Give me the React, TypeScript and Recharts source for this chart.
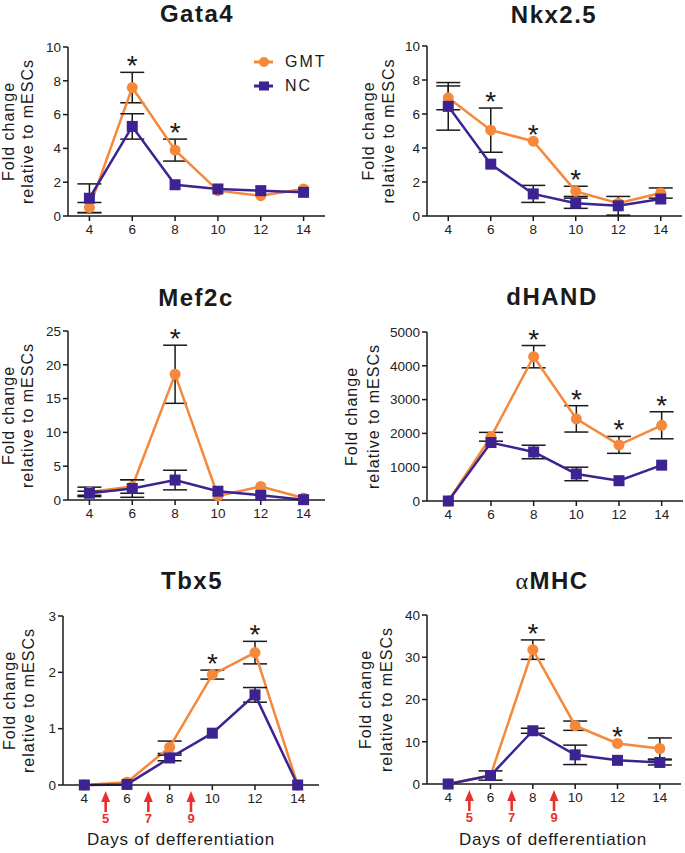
import React from 'react';
import { ComposedChart, Line, XAxis, YAxis, ErrorBar, Scatter } from 'recharts';

const FONT = '"Liberation Sans", Arial, sans-serif';
const ORANGE = '#F5883A';
const PURPLE = '#3D2391';
const RED = '#E8312C';
const INK = '#1a1a1a';

// days of differentiation (x axis)
const days = [4, 6, 8, 10, 12, 14];
const inductionDays = [5, 7, 9];
const seriesNames = ['GMT', 'NC'];

const gata4Gmt = [0.5, 7.6, 3.9, 1.5, 1.2, 1.6];
const gata4GmtErr = [0.3, 0.9, 0.65, 0, 0, 0];
const gata4Nc = [1.05, 5.3, 1.85, 1.6, 1.5, 1.4];
const gata4NcErr = [0.85, 0.75, 0, 0, 0, 0];
const gata4Stars = [6, 8];
const gata4Ticks = [0, 2, 4, 6, 8, 10];

const nkxGmt = [6.95, 5.05, 4.4, 1.45, 0.75, 1.35];
const nkxGmtErr = [0.7, 1.3, 0, 0.3, 0, 0.3];
const nkxNc = [6.45, 3.05, 1.3, 0.75, 0.6, 1.0];
const nkxNcErr = [1.4, 0, 0.5, 0.3, 0.55, 0];
const nkxStars = [6, 8, 10];
const nkxTicks = [0, 2, 4, 6, 8, 10];

const mef2cGmt = [1.2, 2.0, 18.6, 0.6, 2.0, 0.3];
const mef2cGmtErr = [0.7, 1.0, 4.3, 0, 0, 0];
const mef2cNc = [1.0, 1.7, 2.95, 1.3, 0.7, 0.05];
const mef2cNcErr = [0.3, 1.3, 1.45, 0, 0, 0];
const mef2cStars = [8];
const mef2cTicks = [0, 5, 10, 15, 20, 25];

const dhandGmt = [0, 1900, 4270, 2430, 1660, 2240];
const dhandGmtErr = [0, 130, 330, 390, 250, 400];
const dhandNc = [0, 1730, 1450, 800, 600, 1060];
const dhandNcErr = [0, 0, 200, 200, 0, 0];
const dhandStars = [8, 10, 12, 14];
const dhandTicks = [0, 1000, 2000, 3000, 4000, 5000];

const tbx5Gmt = [0, 0.05, 0.67, 1.96, 2.35, 0];
const tbx5GmtErr = [0, 0, 0.11, 0.08, 0.2, 0];
const tbx5Nc = [0, 0.01, 0.48, 0.92, 1.6, 0];
const tbx5NcErr = [0, 0, 0.05, 0, 0.13, 0];
const tbx5Stars = [10, 12];
const tbx5Ticks = [0, 1, 2, 3];

const mhcGmt = [0, 2, 31.8, 13.8, 9.6, 8.4];
const mhcGmtErr = [0, 0, 2.3, 1.1, 0, 2.5];
const mhcNc = [0, 2, 12.6, 6.9, 5.6, 5.1];
const mhcNcErr = [0, 1.1, 0.6, 2.3, 0, 0.6];
const mhcStars = [8, 12];
const mhcTicks = [0, 10, 20, 30, 40];

const squareDot = (p: any) => (
  <rect key={`sq-${p.index}`} x={p.cx - 5.5} y={p.cy - 5.5} width={11} height={11} fill={PURPLE} />
);

const starShape = (p: any) => (
  <text x={p.cx} y={p.cy + 3} textAnchor="middle" fontSize={28} fontFamily={FONT} fill={INK}>*</text>
);

const arrowShape = (p: any) => (
  <g>
    <line x1={p.cx} y1={p.cy + 15} x2={p.cx} y2={p.cy + 27} stroke={RED} strokeWidth={2.6} />
    <polygon points={`${p.cx},${p.cy + 6} ${p.cx - 4.5},${p.cy + 17} ${p.cx + 4.5},${p.cy + 17}`} fill={RED} />
    <text x={p.cx} y={p.cy + 38} textAnchor="middle" fill={RED} fontSize={13} fontWeight="bold" fontFamily={FONT}>
      {p.payload.day}
    </text>
  </g>
);

function Legend() {
  return (
    <div style={{ position: 'absolute', left: 253, top: 50, fontSize: 16, letterSpacing: 2, color: INK }}>
      {seriesNames.map((name, i) => (
        <div key={name} style={{ display: 'flex', alignItems: 'center', height: 24 }}>
          <svg width={26} height={12} style={{ marginRight: 6 }}>
            <line x1={1} y1={6} x2={20} y2={6} stroke={i === 0 ? ORANGE : PURPLE} strokeWidth={3} />
            {i === 0 ? <circle cx={11} cy={6} r={5} fill={ORANGE} /> : <rect x={6} y={1.5} width={10} height={9} fill={PURPLE} />}
          </svg>
          <span>{name}</span>
        </div>
      ))}
    </div>
  );
}

type PanelProps = {
  box: { left: number; top: number; width: number; height: number };
  plot: { x0: number; x1: number; y0: number; y1: number };
  title: React.ReactNode;
  titlePos: [number, number];
  labelX: [number, number];
  gmt: number[];
  gmtErr: number[];
  nc: number[];
  ncErr: number[];
  stars: number[];
  ticks: number[];
  legend?: boolean;
  arrows?: boolean;
  xLabelPos?: [number, number];
};

function Panel(props: PanelProps) {
  const { box, plot, gmt, gmtErr, nc, ncErr, ticks } = props;
  const rows = days.map((day, i) => ({ day, gmt: gmt[i], gmtErr: gmtErr[i], nc: nc[i], ncErr: ncErr[i] }));
  const starData = props.stars.map((day) => {
    const i = days.indexOf(day);
    return { day, top: Math.max(gmt[i] + gmtErr[i], nc[i] + ncErr[i]) };
  });
  const arrowData = inductionDays.map((day) => ({ day, base: 0 }));
  const yAxisWidth = plot.x0 - box.left;
  const xAxisHeight = box.top + box.height - plot.y1;
  const midY = (plot.y0 + plot.y1) / 2 - box.top;
  const yLabel = () => (
    <g fontFamily={FONT} fontSize={16} letterSpacing={1} fill={INK}>
      <text transform={`translate(${props.labelX[0] - box.left},${midY}) rotate(-90)`} textAnchor="middle">Fold change</text>
      <text transform={`translate(${props.labelX[1] - box.left},${midY}) rotate(-90)`} textAnchor="middle">relative to mESCs</text>
    </g>
  );
  return (
    <>
      <div
        style={{
          position: 'absolute', left: props.titlePos[0] - 100, top: props.titlePos[1] - 12, width: 200,
          textAlign: 'center', fontSize: 24, lineHeight: '24px', fontWeight: 'bold', letterSpacing: 1.5, color: INK,
        }}
      >
        {props.title}
      </div>
      <div style={{ position: 'absolute', left: box.left, top: box.top }}>
        <ComposedChart
          width={box.width}
          height={box.height}
          data={rows}
          margin={{ top: plot.y0 - box.top, right: box.left + box.width - plot.x1, bottom: 0, left: 0 }}
        >
          <XAxis
            type="number"
            dataKey="day"
            domain={[3, 15]}
            ticks={days}
            height={xAxisHeight}
            tickSize={5}
            tickMargin={3}
            axisLine={{ stroke: INK, strokeWidth: 1.5 }}
            tickLine={{ stroke: INK, strokeWidth: 1.5 }}
            tick={{ fill: '#222', fontSize: 13.5, fontFamily: FONT }}
          />
          <YAxis
            type="number"
            domain={[0, ticks[ticks.length - 1]]}
            ticks={ticks}
            width={yAxisWidth}
            tickSize={5}
            tickMargin={2}
            axisLine={{ stroke: INK, strokeWidth: 1.5 }}
            tickLine={{ stroke: INK, strokeWidth: 1.5 }}
            tick={{ fill: '#222', fontSize: 13.5, fontFamily: FONT }}
            label={{ content: yLabel }}
          />
          <Line dataKey="gmt" stroke={ORANGE} strokeWidth={2.5} isAnimationActive={false}
            dot={{ r: 5.5, fill: ORANGE, stroke: ORANGE, strokeWidth: 0 }}>
            <ErrorBar dataKey="gmtErr" direction="y" width={12} stroke={INK} strokeWidth={1.5} />
          </Line>
          <Line dataKey="nc" stroke={PURPLE} strokeWidth={2.5} isAnimationActive={false} dot={squareDot}>
            <ErrorBar dataKey="ncErr" direction="y" width={12} stroke={INK} strokeWidth={1.5} />
          </Line>
          <Scatter data={starData} dataKey="top" shape={starShape} isAnimationActive={false} />
          {props.arrows && <Scatter data={arrowData} dataKey="base" shape={arrowShape} isAnimationActive={false} />}
        </ComposedChart>
      </div>
      {props.legend && <Legend />}
      {props.xLabelPos && (
        <div
          style={{
            position: 'absolute', left: props.xLabelPos[0] - 130, top: props.xLabelPos[1] - 10, width: 260,
            textAlign: 'center', fontSize: 17, lineHeight: '20px', letterSpacing: 0.8, color: INK,
          }}
        >
          Days of defferentiation
        </div>
      )}
    </>
  );
}

export default function App() {
  return (
    <div style={{ position: 'absolute', left: 0, top: 0, width: 685, height: 853, background: '#fff', fontFamily: FONT }}>
      <Panel
        box={{ left: 0, top: 0, width: 340, height: 285 }}
        plot={{ x0: 68, x1: 325, y0: 47, y1: 216 }}
        title="Gata4" titlePos={[197, 14]} labelX={[14, 33]}
        gmt={gata4Gmt} gmtErr={gata4GmtErr} nc={gata4Nc} ncErr={gata4NcErr}
        stars={gata4Stars} ticks={gata4Ticks} legend
      />
      <Panel
        box={{ left: 340, top: 0, width: 345, height: 285 }}
        plot={{ x0: 427, x1: 682, y0: 46, y1: 216 }}
        title="Nkx2.5" titlePos={[554, 15]} labelX={[374, 394]}
        gmt={nkxGmt} gmtErr={nkxGmtErr} nc={nkxNc} ncErr={nkxNcErr}
        stars={nkxStars} ticks={nkxTicks}
      />
      <Panel
        box={{ left: 0, top: 285, width: 340, height: 280 }}
        plot={{ x0: 68, x1: 325, y0: 331, y1: 500 }}
        title="Mef2c" titlePos={[196, 298]} labelX={[14, 33]}
        gmt={mef2cGmt} gmtErr={mef2cGmtErr} nc={mef2cNc} ncErr={mef2cNcErr}
        stars={mef2cStars} ticks={mef2cTicks}
      />
      <Panel
        box={{ left: 340, top: 285, width: 345, height: 280 }}
        plot={{ x0: 427, x1: 683, y0: 332, y1: 501 }}
        title="dHAND" titlePos={[552, 297]} labelX={[357, 379]}
        gmt={dhandGmt} gmtErr={dhandGmtErr} nc={dhandNc} ncErr={dhandNcErr}
        stars={dhandStars} ticks={dhandTicks}
      />
      <Panel
        box={{ left: 0, top: 565, width: 340, height: 288 }}
        plot={{ x0: 63, x1: 319, y0: 616, y1: 785 }}
        title="Tbx5" titlePos={[192, 581]} labelX={[15, 34]}
        gmt={tbx5Gmt} gmtErr={tbx5GmtErr} nc={tbx5Nc} ncErr={tbx5NcErr}
        stars={tbx5Stars} ticks={tbx5Ticks} arrows xLabelPos={[181, 840]}
      />
      <Panel
        box={{ left: 340, top: 565, width: 345, height: 288 }}
        plot={{ x0: 427, x1: 681, y0: 615, y1: 784 }}
        title={<><span style={{ fontWeight: 'normal', fontFamily: '"Liberation Serif", "DejaVu Serif", serif' }}>α</span>MHC</>}
        titlePos={[552, 581]} labelX={[371, 392]}
        gmt={mhcGmt} gmtErr={mhcGmtErr} nc={mhcNc} ncErr={mhcNcErr}
        stars={mhcStars} ticks={mhcTicks} arrows xLabelPos={[553, 840]}
      />
    </div>
  );
}
